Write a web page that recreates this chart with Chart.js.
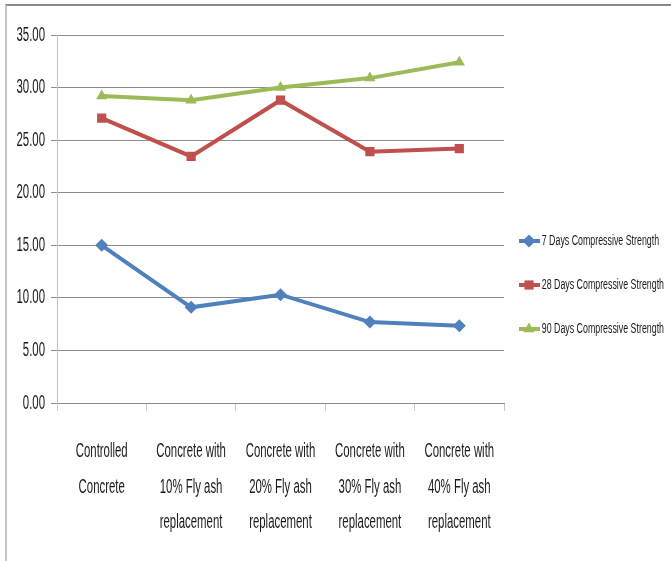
<!DOCTYPE html>
<html lang="en">
<head>
  <meta charset="utf-8">
  <title>Compressive Strength</title>
  <script src="https://cdn.jsdelivr.net/npm/chart.js@4.4.1/dist/chart.umd.min.js"></script>
  <style>
  html, body { margin: 0; padding: 0; background: #fff; }
  .wrap { position: relative; width: 671px; height: 561px; overflow: hidden; }
  .frame { position: absolute; left: 5px; top: 4px; right: -5px; bottom: -5px;
           border-top: 2px solid #8a8a8a; border-left: 2px solid #c4c4c4; }
  canvas { position: absolute; left: 0; top: 0; }
  </style>
</head>
<body>
<div class="wrap">
  <div class="frame"></div>
  <canvas id="canvas" width="671" height="561"></canvas>
</div>

<script>
var categories = [
  ['Controlled', 'Concrete'],
  ['Concrete with', '10% Fly ash', 'replacement'],
  ['Concrete with', '20% Fly ash', 'replacement'],
  ['Concrete with', '30% Fly ash', 'replacement'],
  ['Concrete with', '40% Fly ash', 'replacement']
];
var days7  = [15.0, 9.1, 10.3, 7.7, 7.35];
var days28 = [27.1, 23.45, 28.8, 23.9, 24.2];
var days90 = [29.2, 28.8, 30.0, 30.9, 32.4];
var seriesNames = ['7 Days Compressive Strength', '28 Days Compressive Strength', '90 Days Compressive Strength'];

var FONT = "'Liberation Sans', Arial, sans-serif";
var SQUEEZE = 0.57;   // the original text is tall and narrow

// squeeze all canvas text horizontally (measure + draw stay consistent)
var narrowText = {
  id: 'narrowText',
  beforeInit: function(chart) {
    var c = chart.ctx;
    var fill = c.fillText, measure = c.measureText;
    c.fillText = function(t, x, y, w) {
      this.save();
      this.translate(x, y);
      this.scale(SQUEEZE, 1);
      if (w === undefined) fill.call(this, t, 0, 0);
      else fill.call(this, t, 0, 0, w / SQUEEZE);
      this.restore();
    };
    c.measureText = function(t) {
      var m = measure.call(this, t);
      return { width: m.width * SQUEEZE,
               actualBoundingBoxAscent: m.actualBoundingBoxAscent,
               actualBoundingBoxDescent: m.actualBoundingBoxDescent };
    };
  }
};

// legend: draw line + marker ourselves on top of the (invisible) legend boxes
var legendMarks = {
  id: 'legendMarks',
  afterDraw: function(chart) {
    var ctx = chart.ctx;
    var boxes = chart.legend.legendHitBoxes || [];
    boxes.forEach(function(hb, i) {
      var ds = chart.data.datasets[i];
      var y = hb.top + hb.height / 2;
      ctx.save();
      ctx.strokeStyle = ds.borderColor;
      ctx.lineWidth = 4;
      ctx.beginPath();
      ctx.moveTo(hb.left + 1, y);
      ctx.lineTo(hb.left + 22, y);
      ctx.stroke();
      ctx.fillStyle = ds.borderColor;
      Chart.helpers.drawPoint(ctx, {pointStyle: ds.pointStyle, radius: ds.pointRadius, borderWidth: 0, rotation: 0}, hb.left + 11, y);
      ctx.restore();
    });
  }
};

function line(label, data, color, style) {
  return {
    label: label,
    data: data,
    borderColor: color,
    backgroundColor: color,
    borderWidth: 4,
    pointStyle: style,
    pointRadius: 6.5,
    pointBorderWidth: 0,
    pointBackgroundColor: color,
    tension: 0
  };
}

var ctx = document.getElementById('canvas').getContext('2d');
new Chart(ctx, {
  type: 'line',
  data: {
    labels: categories,
    datasets: [
      line(seriesNames[0], days7, '#4F81BD', 'rectRot'),
      line(seriesNames[1], days28, '#C0504D', 'rect'),
      line(seriesNames[2], days90, '#9BBB59', 'triangle')
    ]
  },
  options: {
    responsive: false,
    animation: false,
    layout: { padding: { top: 35, left: 0, right: 0, bottom: 26 } },
    plugins: {
      tooltip: { enabled: false },
      legend: {
        position: 'right',
        maxWidth: 167,
        labels: {
          boxWidth: 16,
          boxHeight: 30,
          padding: 14,
          color: '#1a1a1a',
          font: { family: FONT, size: 15.5 },
          generateLabels: function(chart) {
            return chart.data.datasets.map(function(ds, i) {
              return { text: ds.label, fillStyle: 'rgba(0,0,0,0)', strokeStyle: 'rgba(0,0,0,0)',
                       lineWidth: 0, datasetIndex: i, hidden: false, fontColor: '#1a1a1a' };
            });
          }
        }
      }
    },
    scales: {
      x: {
        offset: true,
        afterFit: function(scale) { scale.height = 132; },
        grid: { offset: true, drawOnChartArea: false, drawTicks: true, tickLength: 8, color: '#c8c8c8' },
        border: { color: '#8a8a8a' },
        ticks: { color: '#1a1a1a', padding: 23, maxRotation: 0, autoSkip: false,
                 font: { family: FONT, size: 20, lineHeight: 1.77 } }
      },
      y: {
        min: 0,
        max: 35,
        afterFit: function(scale) { scale.width = 57; },
        grid: { color: '#8c8c8c', tickLength: 6 },
        border: { color: '#c4c4c4' },
        ticks: { stepSize: 5, color: '#1a1a1a', padding: 6,
                 font: { family: FONT, size: 20 },
                 callback: function(v) { return v.toFixed(2); } }
      }
    }
  },
  plugins: [narrowText, legendMarks]
});
</script>
</body>
</html>
